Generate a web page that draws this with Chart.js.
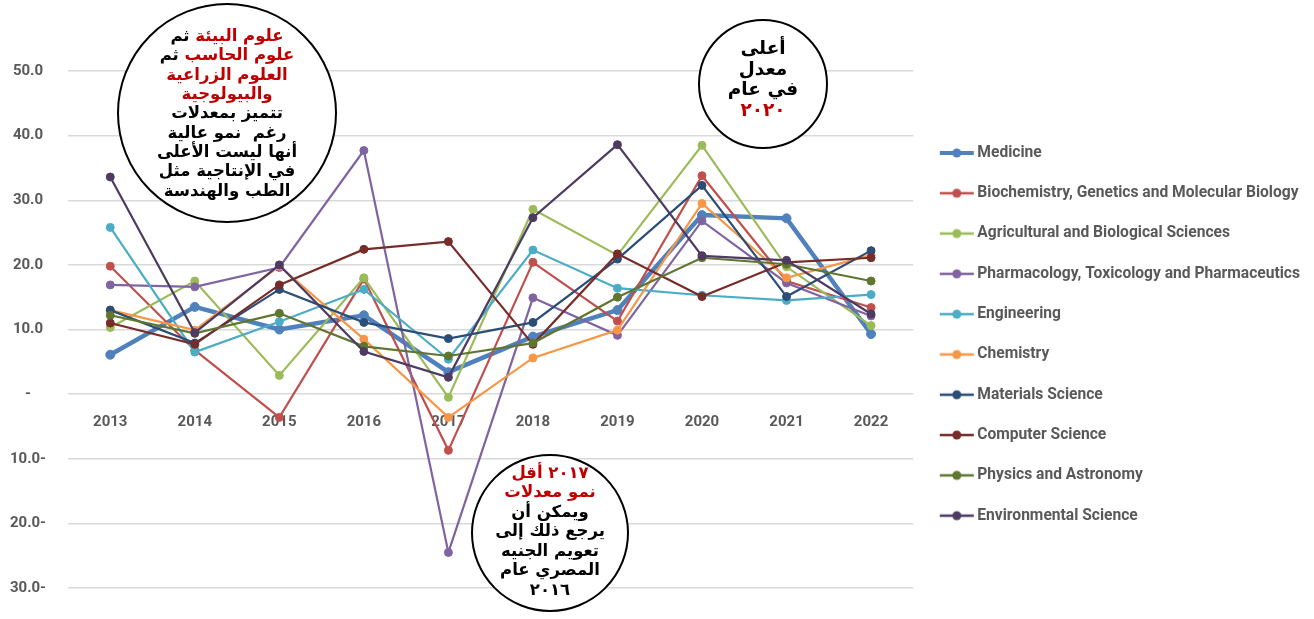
<!DOCTYPE html>
<html>
<head>
<meta charset="utf-8">
<script src="https://cdn.jsdelivr.net/npm/chart.js@4.4.0/dist/chart.umd.min.js"></script>
<style>
  body { margin: 0; background: #fff; }
  #wrap { position: relative; width: 1314px; height: 619px; }
  .note {
    position: absolute; box-sizing: border-box;
    border: 2px solid #000; border-radius: 50%; background: #fff;
    display: flex; flex-direction: column; justify-content: center; align-items: center;
    font-family: "DejaVu Sans", sans-serif; font-weight: bold; color: #000;
    direction: rtl; text-align: center; white-space: pre;
  }
  .red { color: #c00000; }
  #n1 { left: 117px; top: 3px; width: 220px; height: 220px; font-size: 16.5px; line-height: 19.3px; }
  #n2 { left: 698px; top: 19px; width: 130px; height: 130px; font-size: 18.5px; line-height: 20.5px; padding-bottom: 10px; }
  #n3 { left: 471px; top: 454px; width: 158px; height: 158px; font-size: 16.5px; line-height: 19.5px; padding-bottom: 4px; }
</style>
</head>
<body>
<div id="wrap">
  <canvas id="myChart" width="1314" height="619"></canvas>

  <div class="note" id="n1">
    <div><span class="red">علوم البيئة</span> ثم</div>
    <div><span class="red">علوم الحاسب</span> ثم</div>
    <div class="red">العلوم الزراعية</div>
    <div class="red">والبيولوجية</div>
    <div>تتميز بمعدلات</div>
    <div>رغم  نمو عالية</div>
    <div>أنها ليست الأعلى</div>
    <div>في الإنتاجية مثل</div>
    <div>الطب والهندسة</div>
  </div>

  <div class="note" id="n2">
    <div>أعلى</div>
    <div>معدل</div>
    <div>في عام</div>
    <div class="red">٢٠٢٠</div>
  </div>

  <div class="note" id="n3">
    <div class="red">٢٠١٧ أقل</div>
    <div class="red">نمو معدلات</div>
    <div>ويمكن أن</div>
    <div>يرجع ذلك إلى</div>
    <div>تعويم الجنيه</div>
    <div>المصري عام</div>
    <div>٢٠١٦</div>
  </div>
</div>

<script>
// data (growth %, by year)
const years = ["2013", "2014", "2015", "2016", "2017", "2018", "2019", "2020", "2021", "2022"];

const medicine      = [6.1, 13.5, 10.0, 12.2, 3.4, 8.9, 13.0, 27.7, 27.2, 9.3];
const biochemistry  = [19.8, 6.8, -3.6, 17.8, -8.7, 20.4, 11.3, 33.8, 17.5, 13.4];
const agricultural  = [10.3, 17.5, 2.9, 18.0, -0.5, 28.6, 21.5, 38.5, 19.7, 10.6];
const pharmacology  = [16.9, 16.6, 19.6, 37.7, -24.5, 14.9, 9.1, 26.8, 17.2, 12.1];
const engineering   = [25.8, 6.5, 11.2, 16.2, 5.4, 22.3, 16.4, 15.3, 14.5, 15.4];
const chemistry     = [13.0, 9.9, 19.8, 8.5, -3.6, 5.6, 9.9, 29.5, 18.0, 21.5];
const materials     = [13.0, 7.9, 16.2, 11.1, 8.6, 11.1, 20.9, 32.3, 15.1, 22.2];
const computer      = [11.0, 7.7, 16.9, 22.4, 23.6, 7.7, 21.7, 15.1, 20.4, 21.1];
const physics       = [12.2, 9.4, 12.5, 7.4, 5.9, 7.9, 15.0, 21.1, 20.1, 17.5];
const environmental = [33.6, 9.5, 20.0, 6.6, 2.6, 27.3, 38.6, 21.4, 20.7, 12.4];

const seriesNames = [
  "Medicine",
  "Biochemistry, Genetics and Molecular Biology",
  "Agricultural and Biological Sciences",
  "Pharmacology, Toxicology and Pharmaceutics",
  "Engineering",
  "Chemistry",
  "Materials Science",
  "Computer Science",
  "Physics and Astronomy",
  "Environmental Science"
];
const seriesValues = [medicine, biochemistry, agricultural, pharmacology, engineering,
                      chemistry, materials, computer, physics, environmental];
const seriesColors = ["#4f81bd", "#c0504d", "#9bbb59", "#8064a2", "#4bacc6",
                      "#f79646", "#2c4d75", "#772c2a", "#5f7530", "#4d3b62"];

const yTicks = [-30, -20, -10, 0, 10, 20, 30, 40, 50];

// little line + dot for the legend
function legendMark(color, width) {
  const c = document.createElement("canvas");
  c.width = 44; c.height = 14;
  const g = c.getContext("2d");
  g.strokeStyle = color; g.lineWidth = width;
  g.beginPath(); g.moveTo(8, 7); g.lineTo(42, 7); g.stroke();
  g.fillStyle = color;
  g.beginPath(); g.arc(25, 7, 4.5, 0, Math.PI * 2); g.fill();
  return c;
}
const marks = seriesColors.map((c, i) => legendMark(c, i === 0 ? 4 : 2.5));

const datasets = seriesNames.map((name, i) => ({
  label: name,
  data: seriesValues[i],
  borderColor: seriesColors[i],
  backgroundColor: seriesColors[i],
  pointBackgroundColor: seriesColors[i],
  pointBorderColor: seriesColors[i],
  borderWidth: i === 0 ? 4.5 : 2.2,
  pointRadius: i === 0 ? 4.5 : 4,
  pointBorderWidth: 1,
  tension: 0,
  order: seriesNames.length - i   // later series drawn on top, like Excel
}));

const ctx = document.getElementById("myChart");

new Chart(ctx, {
  type: "line",
  data: { labels: years, datasets: datasets },
  options: {
    responsive: false,
    animation: false,
    layout: { padding: { top: 71, bottom: 31, left: 0, right: 4 } },
    plugins: {
      tooltip: { enabled: false },
      legend: {
        position: "right",
        maxWidth: 500,
        title: { display: true, text: "", padding: 0, font: { size: 8 } },
        labels: {
          usePointStyle: true,
          pointStyleWidth: 31.5,
          padding: 24.7,
          color: "#595959",
          font: { family: "Roboto", size: 15.6, weight: "bold" },
          generateLabels(chart) {
            const items = Chart.defaults.plugins.legend.labels.generateLabels(chart);
            items.sort((a, b) => a.datasetIndex - b.datasetIndex);
            items.forEach(it => { it.pointStyle = marks[it.datasetIndex]; });
            return items;
          }
        }
      }
    },
    scales: {
      x: {
        position: { y: 0 },
        offset: true,
        grid: { display: false, drawTicks: false },
        border: { display: false },
        ticks: {
          padding: 19,
          color: "#595959",
          font: { family: "Roboto", size: 15, weight: "bold" }
        }
      },
      y: {
        min: -30,
        max: 50,
        afterFit(scale) { scale.width = 68; },
        afterBuildTicks(scale) { scale.ticks = yTicks.map(v => ({ value: v })); },
        grid: { color: "#d9d9d9", lineWidth: 1.5, drawTicks: false },
        border: { display: false },
        ticks: {
          padding: 22,
          crossAlign: "center",
          color: "#595959",
          font: { family: "Roboto", size: 15, weight: "bold" },
          callback(v) {
            if (v === 0) return "-";
            if (v < 0) return Math.abs(v).toFixed(1) + "-";
            return v.toFixed(1);
          }
        }
      }
    }
  }
});
</script>
</body>
</html>
